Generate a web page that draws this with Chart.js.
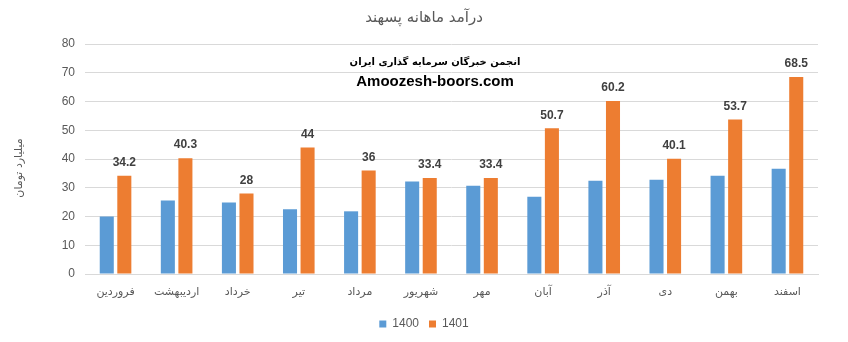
<!DOCTYPE html>
<html>
<head>
<meta charset="utf-8">
<script src="https://cdn.jsdelivr.net/npm/chart.js@4.4.1/dist/chart.umd.min.js"></script>
<style>
  body { margin: 0; background: #fff; }
  #wrap { width: 848px; height: 342px; }
</style>
</head>
<body>
<div id="wrap"><canvas id="revenueChart" width="848" height="342"></canvas></div>
<script>
// Monthly revenue, billion tomans
const months = ['فروردین', 'اردیبهشت', 'خرداد', 'تیر', 'مرداد', 'شهریور', 'مهر', 'آبان', 'آذر', 'دی', 'بهمن', 'اسفند'];
const revenue1400 = [20, 25.6, 24.9, 22.5, 21.8, 32.2, 30.7, 26.9, 32.4, 32.8, 34.2, 36.6];
const revenue1401 = [34.2, 40.3, 28, 44, 36, 33.4, 33.4, 50.7, 60.2, 40.1, 53.7, 68.5];
const yTicks = [0, 10, 20, 30, 40, 50, 60, 70, 80];

const greyText = '#595959';
const gridGrey = '#D9D9D9';
const arabicFont = '"DejaVu Sans", "Noto Sans", sans-serif';
const latinFont = '"Liberation Sans", Arial, sans-serif';

// Value labels above the 1401 bars
const valueLabels = {
    id: 'valueLabels',
    afterDatasetsDraw(chart) {
        const ctx = chart.ctx;
        const meta = chart.getDatasetMeta(1);
        ctx.save();
        ctx.font = 'bold 12px ' + latinFont;
        ctx.fillStyle = '#404040';
        ctx.textAlign = 'center';
        ctx.textBaseline = 'middle';
        meta.data.forEach((bar, i) => {
            ctx.fillText(String(revenue1401[i]), bar.x, bar.y - 13);
        });
        ctx.restore();
    }
};

// Chart title, rotated y-axis caption and the publisher text box
const headerText = {
    id: 'headerText',
    afterDraw(chart) {
        const ctx = chart.ctx;
        const cx = chart.width / 2;
        ctx.save();
        ctx.textAlign = 'center';
        ctx.textBaseline = 'middle';
        ctx.fillStyle = greyText;
        ctx.font = '15px ' + arabicFont;
        ctx.fillText('درآمد ماهانه پسهند', cx, 18);

        ctx.save();
        ctx.translate(19, 168);
        ctx.rotate(-Math.PI / 2);
        ctx.font = '11px ' + arabicFont;
        ctx.fillText('میلیارد تومان', 0, 0);
        ctx.restore();

        ctx.fillStyle = '#000';
        ctx.font = 'bold 10px ' + arabicFont;
        ctx.fillText('انجمن خبرگان سرمایه گذاری ایران', 435, 62);
        ctx.font = 'bold 15px ' + latinFont;
        ctx.fillText('Amoozesh-boors.com', 435, 82);
        ctx.restore();
    }
};

new Chart(document.getElementById('revenueChart'), {
    type: 'bar',
    data: {
        labels: months,
        datasets: [
            {
                label: '1400',
                data: revenue1400,
                backgroundColor: '#5B9BD5',
                categoryPercentage: 0.575,
                barPercentage: 0.8
            },
            {
                label: '1401',
                data: revenue1401,
                backgroundColor: '#ED7D31',
                categoryPercentage: 0.575,
                barPercentage: 0.8
            }
        ]
    },
    options: {
        responsive: false,
        animation: false,
        layout: { padding: { left: 0, right: 0, top: 44, bottom: 2 } },
        scales: {
            x: {
                grid: { display: false },
                border: { display: true, color: gridGrey },
                ticks: {
                    color: greyText,
                    font: { family: arabicFont, size: 11 },
                    padding: 4,
                    maxRotation: 0
                },
                afterFit(scale) { scale.height = 34; }
            },
            y: {
                min: 0,
                max: 80,
                afterBuildTicks(scale) { scale.ticks = yTicks.map(v => ({ value: v })); },
                grid: { color: gridGrey, drawTicks: false },
                border: { display: false },
                ticks: {
                    color: greyText,
                    font: { family: latinFont, size: 12 },
                    padding: 10
                },
                afterFit(scale) { scale.width = 85; }
            },
            // empty right-hand margin so the plot stops short of the edge
            yRight: {
                position: 'right',
                min: 0,
                max: 80,
                grid: { display: false },
                border: { display: false },
                ticks: { display: false },
                afterFit(scale) { scale.width = 30; }
            }
        },
        plugins: {
            title: { display: false },
            legend: {
                position: 'bottom',
                labels: {
                    color: greyText,
                    font: { family: latinFont, size: 12 },
                    boxWidth: 7,
                    boxHeight: 7,
                    padding: 10
                }
            },
            tooltip: { enabled: false }
        }
    },
    plugins: [valueLabels, headerText]
});
</script>
</body>
</html>
